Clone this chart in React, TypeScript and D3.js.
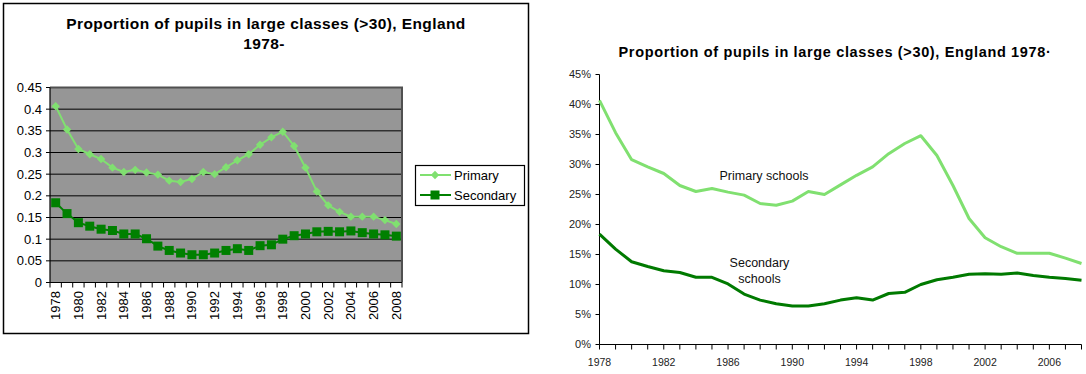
import * as d3 from "d3";
import React from "react";

// years 1978-2008
const years = [
  1978, 1979, 1980, 1981, 1982, 1983, 1984, 1985, 1986, 1987, 1988, 1989, 1990, 1991, 1992, 1993,
  1994, 1995, 1996, 1997, 1998, 1999, 2000, 2001, 2002, 2003, 2004, 2005, 2006, 2007, 2008,
];
const primary = [
  0.407, 0.353, 0.308, 0.296, 0.285, 0.265, 0.255, 0.26, 0.254, 0.249, 0.235, 0.232, 0.239, 0.255, 0.25, 0.266,
  0.282, 0.296, 0.318, 0.335, 0.348, 0.315, 0.265, 0.21, 0.178, 0.163, 0.152, 0.152, 0.152, 0.144, 0.135,
];
const secondary = [
  0.184, 0.159, 0.138, 0.13, 0.123, 0.12, 0.112, 0.112, 0.101, 0.084, 0.074, 0.068, 0.064, 0.064, 0.068, 0.074,
  0.078, 0.074, 0.085, 0.087, 0.1, 0.108, 0.112, 0.117, 0.118, 0.117, 0.119, 0.115, 0.112, 0.11, 0.107,
];
const leftYTicks = [0, 0.05, 0.1, 0.15, 0.2, 0.25, 0.3, 0.35, 0.4, 0.45];
const leftXLabels = [1978, 1980, 1982, 1984, 1986, 1988, 1990, 1992, 1994, 1996, 1998, 2000, 2002, 2004, 2006, 2008];
const rightYTicks = [0, 0.05, 0.1, 0.15, 0.2, 0.25, 0.3, 0.35, 0.4, 0.45];
const rightXLabels = [1978, 1982, 1986, 1990, 1994, 1998, 2002, 2006];
const seriesNames = ["Primary", "Secondary"];

const FONT = "'Liberation Sans', Arial, sans-serif";
const LIGHT = "#80E070";
const DARK = "#008000";

const LeftChart = () => {
  // plot area
  const x0 = 50, x1 = 402, yTop = 87.5, yBot = 282.5;
  const x = d3.scaleBand<number>().domain(years).range([x0, x1]);
  const y = d3.scaleLinear().domain([0, 0.45]).range([yBot, yTop]);
  const cx = (yr: number) => (x(yr) as number) + x.bandwidth() / 2;
  const line = d3.line<number>().x((_, i) => cx(years[i])).y((d) => y(d));
  const diamond = (px: number, py: number, r = 4.2) =>
    `M${px},${py - r}L${px + r},${py}L${px},${py + r}L${px - r},${py}Z`;

  return (
    <g fontFamily={FONT}>
      <rect x={3.5} y={3.5} width={525} height={330} fill="#fff" stroke="#000" strokeWidth={1.5} />
      <text x={266} y={29} textAnchor="middle" fontSize={15.5} fontWeight="bold" letterSpacing={0.4}>
        Proportion of pupils in large classes (&gt;30), England
      </text>
      <text x={264} y={49} textAnchor="middle" fontSize={15.5} fontWeight="bold" letterSpacing={0.4}>
        1978-
      </text>
      <rect x={x0} y={yTop} width={x1 - x0} height={yBot - yTop} fill="#969696" />
      {leftYTicks.slice(1, -1).map((t) => (
        <line key={t} x1={x0} x2={x1} y1={y(t)} y2={y(t)} stroke="#000" strokeWidth={1} />
      ))}
      {/* plot border top / right */}
      <path d={`M${x0},${yTop}H${x1}V${yBot}`} fill="none" stroke="#505050" strokeWidth={2} />
      {/* axes */}
      <line x1={x0} x2={x0} y1={yTop} y2={yBot} stroke="#000" strokeWidth={1.2} />
      <line x1={x0} x2={x1} y1={yBot} y2={yBot} stroke="#000" strokeWidth={1.2} />
      {leftYTicks.map((t) => (
        <g key={t}>
          <line x1={x0 - 4} x2={x0} y1={y(t)} y2={y(t)} stroke="#000" />
          <text x={42} y={y(t)} dy="0.35em" textAnchor="end" fontSize={13}>
            {String(+t.toFixed(2))}
          </text>
        </g>
      ))}
      {years.concat([2009]).map((yr, i) => {
        const px = x0 + i * x.step();
        return <line key={yr} x1={px} x2={px} y1={yBot} y2={yBot + 5} stroke="#000" />;
      })}
      {leftXLabels.map((yr) => (
        <text
          key={yr}
          transform={`translate(${cx(yr)},${291}) rotate(-90)`}
          dy="0.35em"
          textAnchor="end"
          fontSize={13}
        >
          {yr}
        </text>
      ))}
      <path d={line(primary) as string} fill="none" stroke={LIGHT} strokeWidth={2} />
      {primary.map((v, i) => (
        <path key={i} d={diamond(cx(years[i]), y(v))} fill={LIGHT} />
      ))}
      <path d={line(secondary) as string} fill="none" stroke={DARK} strokeWidth={2} />
      {secondary.map((v, i) => (
        <rect key={i} x={cx(years[i]) - 4.5} y={y(v) - 4.5} width={9} height={9} fill={DARK} />
      ))}
      {/* legend */}
      <rect x={415.5} y={165.5} width={109} height={40} fill="#fff" stroke="#000" strokeWidth={1.2} />
      <line x1={420} x2={451} y1={175} y2={175} stroke={LIGHT} strokeWidth={2} />
      <path d={diamond(435, 175)} fill={LIGHT} />
      <text x={454} y={175} dy="0.35em" fontSize={13}>
        {seriesNames[0]}
      </text>
      <line x1={420} x2={451} y1={195} y2={195} stroke={DARK} strokeWidth={2} />
      <rect x={430.5} y={190.5} width={9} height={9} fill={DARK} />
      <text x={454} y={195} dy="0.35em" fontSize={13}>
        {seriesNames[1]}
      </text>
    </g>
  );
};

const RightChart = () => {
  const x = d3.scaleLinear().domain([1978, 2008]).range([599.5, 1081.5]);
  const y = d3.scaleLinear().domain([0, 0.45]).range([344.5, 74.5]);
  const line = d3.line<number>().x((_, i) => x(years[i])).y((d) => y(d));

  return (
    <g fontFamily={FONT}>
      <text x={835} y={57} textAnchor="middle" fontSize={14.5} fontWeight="bold" letterSpacing={0.65}>
        Proportion of pupils in large classes (&gt;30), England 1978·
      </text>
      <line x1={599.5} x2={599.5} y1={y(0.45)} y2={y(0)} stroke="#000" />
      <line x1={599.5} x2={1081.5} y1={y(0)} y2={y(0)} stroke="#000" />
      {rightYTicks.map((t) => (
        <g key={t}>
          <line x1={595.5} x2={599.5} y1={y(t)} y2={y(t)} stroke="#000" />
          <text x={591} y={y(t)} dy="0.35em" textAnchor="end" fontSize={11} fill="#222">
            {d3.format(".0%")(t)}
          </text>
        </g>
      ))}
      {years.map((yr) => (
        <line key={yr} x1={x(yr)} x2={x(yr)} y1={y(0)} y2={y(0) + 5} stroke="#000" />
      ))}
      {rightXLabels.map((yr) => (
        <text key={yr} x={x(yr)} y={366} textAnchor="middle" fontSize={10.5} fill="#222">
          {yr}
        </text>
      ))}
      <path d={line(primary) as string} fill="none" stroke={LIGHT} strokeWidth={3} strokeLinejoin="round" />
      <path d={line(secondary) as string} fill="none" stroke="#007A00" strokeWidth={3} strokeLinejoin="round" />
      <text x={764} y={180} textAnchor="middle" fontSize={12.5} fill="#111">
        Primary schools
      </text>
      <text x={759.5} y={267} textAnchor="middle" fontSize={12.5} fill="#111">
        Secondary
      </text>
      <text x={759.5} y={282.5} textAnchor="middle" fontSize={12.5} fill="#111">
        schools
      </text>
    </g>
  );
};

export default function App() {
  return (
    <svg
      width={1086}
      height={374}
      style={{ position: "absolute", left: 0, top: 0, background: "#fff" }}
    >
      <LeftChart />
      <RightChart />
    </svg>
  );
}
